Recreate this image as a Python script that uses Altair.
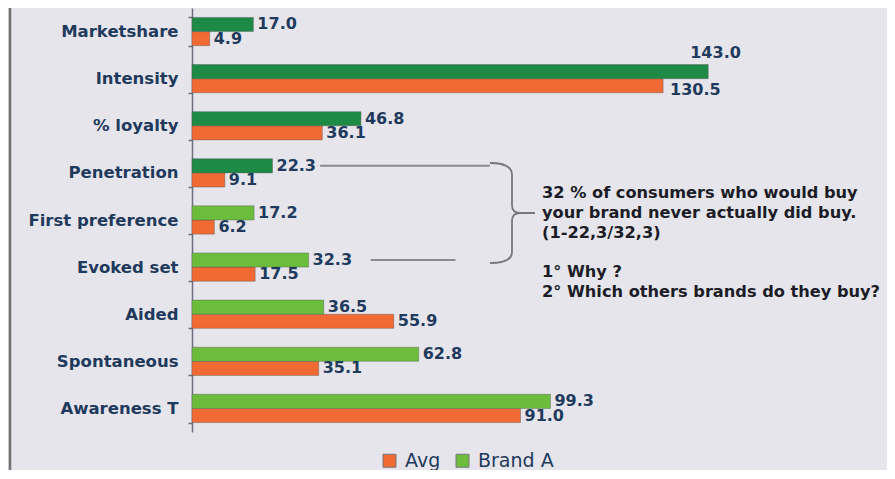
import json
import altair as alt
import pandas as pd

# ---------------- data ----------------
categories = ["Marketshare", "Intensity", "% loyalty", "Penetration",
              "First preference", "Evoked set", "Aided", "Spontaneous", "Awareness T"]
brand_a = [17.0, 143.0, 46.8, 22.3, 17.2, 32.3, 36.5, 62.8, 99.3]
avg = [4.9, 130.5, 36.1, 9.1, 6.2, 17.5, 55.9, 35.1, 91.0]
series_names = ["Avg", "Brand A"]
dark_green_categories = ["Marketshare", "Intensity", "% loyalty", "Penetration"]

# connector lines of the annotation (category, series, from value, to value)
conn_category = ["Penetration", "Evoked set"]
conn_series = ["Brand A", "Brand A"]
conn_from = [35.5, 49.5]
conn_to = [82.5, 73.0]

note_lines_1 = ["32 % of consumers who would buy",
                "your brand never actually did buy.",
                "(1-22,3/32,3)"]
note_lines_2 = ["1° Why ?", "2° Which others brands do they buy?"]

rows = []
for c, a, b in zip(categories, avg, brand_a):
    rows.append({"category": c, "series": "Avg", "value": a})
    rows.append({"category": c, "series": "Brand A", "value": b})
df = pd.DataFrame(rows)
conn_df = pd.DataFrame({"category": conn_category, "series": conn_series,
                        "x0": conn_from, "x1": conn_to})

# ---------------- styling ----------------
W, H = 695, 424
PX_PER_UNIT = 3.61
XMAX = W / PX_PER_UNIT
FONT = "DejaVu Sans"
NAVY = "#1f3a5c"
BG = "#e5e5eb"
ORANGE = "#f26a33"
LIGHT_GREEN = "#6cbd3c"
DARK_GREEN = "#1d8a45"
GRAY = "#6c6f7d"

y_enc = alt.Y("category:N", sort=categories,
              scale=alt.Scale(paddingInner=0.4, paddingOuter=0.2),
              axis=alt.Axis(title=None, tickBand="extent", labelFont=FONT,
                            labelFontWeight="bold", labelFontSize=16.5,
                            labelColor=NAVY, labelPadding=10, tickSize=4,
                            tickColor=GRAY, domainColor=GRAY, domainWidth=1.5,
                            tickWidth=1.5, grid=False, labelLimit=300))
yoff_enc = alt.YOffset("series:N", sort=["Brand A", "Avg"],
                       scale=alt.Scale(paddingInner=0, paddingOuter=0))
x_enc = alt.X("value:Q", scale=alt.Scale(domain=[0, XMAX]), axis=None)

dark_test = "datum.series === 'Brand A' && indexof(%s, datum.category) >= 0" % json.dumps(dark_green_categories)

fill_enc = alt.condition(
    dark_test,
    alt.value(DARK_GREEN),
    alt.Color("series:N",
              scale=alt.Scale(domain=series_names, range=[ORANGE, LIGHT_GREEN]),
              legend=alt.Legend(title=None, orient="none", legendX=188, legendY=443,
                                direction="horizontal", symbolType="square",
                                symbolSize=169, symbolStrokeColor="#777777",
                                symbolStrokeWidth=1, labelFont=FONT,
                                labelFontSize=19, labelColor=NAVY,
                                columnPadding=12, labelOffset=6, padding=0)),
)

bars = alt.Chart(df).mark_bar(stroke="#5a5a5a", strokeWidth=0.7,
                              strokeOpacity=0.6).encode(
    y=y_enc, yOffset=yoff_enc, x=x_enc, color=fill_enc)

label_style = dict(font=FONT, fontWeight="bold", fontSize=16, color=NAVY,
                   align="left", baseline="middle")

labels = alt.Chart(df).mark_text(dx=4, **label_style).encode(
    y=y_enc, yOffset=yoff_enc, x=x_enc,
    text=alt.Text("value:Q", format=".1f"),
).transform_filter("datum.category !== 'Intensity'")

lab_int_a = alt.Chart(df).mark_text(dx=-18, dy=-19, **label_style).encode(
    y=y_enc, yOffset=yoff_enc, x=x_enc,
    text=alt.Text("value:Q", format=".1f"),
).transform_filter("datum.category === 'Intensity' && datum.series === 'Brand A'")

lab_int_b = alt.Chart(df).mark_text(dx=7, dy=4, **label_style).encode(
    y=y_enc, yOffset=yoff_enc, x=x_enc,
    text=alt.Text("value:Q", format=".1f"),
).transform_filter("datum.category === 'Intensity' && datum.series === 'Avg'")

connectors = alt.Chart(conn_df).mark_rule(color="#8a8a92", strokeWidth=2).encode(
    y=y_enc, yOffset=yoff_enc,
    x=alt.X("x0:Q", scale=alt.Scale(domain=[0, XMAX]), axis=None),
    x2="x1:Q",
)

one = alt.Data(values=[{"k": 0}])

brace_path = ("M -0.44 -1 Q 0 -1 0 -0.76 L 0 -0.16 Q 0 0 0.16 0 L 0.46 0 "
              "M 0.16 0 Q 0 0 0 0.16 L 0 0.78 Q 0 1 -0.44 1")
brace = alt.Chart(one).mark_point(shape=brace_path, filled=False, size=10000,
                                  stroke="#77777f", strokeWidth=1.8,
                                  opacity=1).encode(
    x=alt.value(320), y=alt.value(205))

note_style = dict(font=FONT, fontWeight="bold", fontSize=16.2, color="#1c1c26",
                  align="left", baseline="alphabetic", lineHeight=20)
note1 = alt.Chart(one).mark_text(text=note_lines_1, **note_style).encode(
    x=alt.value(350), y=alt.value(190))
note2 = alt.Chart(one).mark_text(text=note_lines_2, **note_style).encode(
    x=alt.value(350), y=alt.value(269))

border = alt.Chart(one).mark_rule(color="#707070", strokeWidth=2.5).encode(
    x=alt.value(-182), y=alt.value(-10), y2=alt.value(475))

chart = alt.layer(border, connectors, bars, labels, lab_int_a, lab_int_b,
                  brace, note1, note2).properties(
    width=W, height=H,
    autosize=alt.AutoSizeParams(type="none"),
    padding={"left": 184, "top": 0, "right": 0, "bottom": 38},
    background=BG,
).configure_view(stroke=None)

chart.save("out.html", embed_options={"renderer": "svg", "actions": False})
